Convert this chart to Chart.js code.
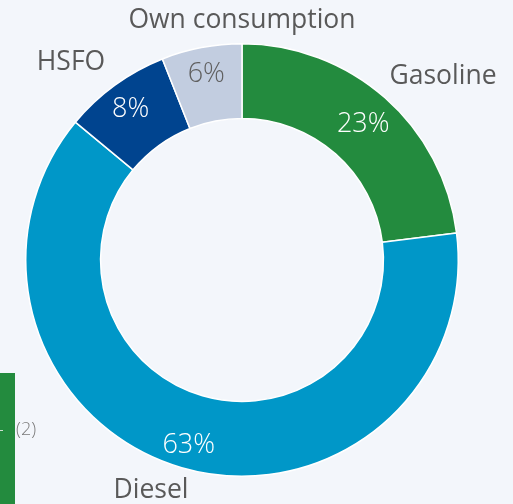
<!DOCTYPE html>
<html lang="en">
<head>
  <meta charset="UTF-8">
  <title>Product mix</title>
  <style>
    html, body { margin: 0; padding: 0; background: #f3f6fb; }
    body { width: 513px; height: 504px; overflow: hidden; position: relative; font-family: "Open Sans", sans-serif; }
    #wrap { position: absolute; left: 0; top: 0; width: 513px; height: 504px; }
    .side-bar { position: absolute; left: 0; top: 373px; width: 15px; height: 131px; background: #238b3e; }
    .side-tick { position: absolute; left: 0; top: 430px; width: 3px; height: 1px; background: #cfe0d2; }
    .note { position: absolute; left: 16px; top: 416px; font-size: 18px; font-weight: 300; color: #7a7a7a; }
  </style>
</head>
<body>
  <div id="wrap"><canvas id="mixChart" width="513" height="504"></canvas></div>
  <div class="side-bar"></div>
  <div class="side-tick"></div>
  <div class="note">(2)</div>

  <script src="https://cdn.jsdelivr.net/npm/chart.js"></script>
  <script>
    const categories = ["Gasoline", "Diesel", "HSFO", "Own consumption"];
    const shares = [23, 63, 8, 6];
    const colors = ["#238b3e", "#0097c8", "#00448f", "#c2cde0"];
    const pctColors = ["#ffffff", "#ffffff", "#ffffff", "#5f5f5f"];

    // where each % sits across the ring (0 = inner edge, 1 = outer edge)
    const pctDepth = [0.56, 0.66, 0.64, 0.66];
    // name labels sit outside the ring, offset from the centre
    const nameOffsets = [[201, -184], [-91, 230], [-171, -198], [0, -240]];

    const sliceLabels = {
      id: 'sliceLabels',
      afterDatasetsDraw(chart) {
        const ctx = chart.ctx;
        const meta = chart.getDatasetMeta(0);
        ctx.save();
        ctx.textAlign = 'center';
        ctx.textBaseline = 'middle';
        meta.data.forEach((arc, i) => {
          const p = arc.getProps(['x', 'y', 'startAngle', 'endAngle', 'innerRadius', 'outerRadius'], true);
          const mid = (p.startAngle + p.endAngle) / 2;
          const r = p.innerRadius + pctDepth[i] * (p.outerRadius - p.innerRadius);
          ctx.font = '300 27px "Open Sans", sans-serif';
          ctx.fillStyle = pctColors[i];
          ctx.fillText(shares[i] + '%', p.x + Math.cos(mid) * r, p.y + Math.sin(mid) * r + 2);

          ctx.font = '400 26.5px "Open Sans", sans-serif';
          ctx.fillStyle = '#595959';
          ctx.fillText(categories[i], p.x + nameOffsets[i][0], p.y + nameOffsets[i][1]);
        });
        ctx.restore();
      }
    };

    new Chart(document.getElementById('mixChart').getContext('2d'), {
      type: 'doughnut',
      data: {
        labels: categories,
        datasets: [{
          data: shares,
          backgroundColor: colors,
          borderColor: '#ffffff',
          borderWidth: 1.5,
          hoverOffset: 0
        }]
      },
      options: {
        responsive: false,
        animation: false,
        cutout: '65.4%',
        layout: { padding: { left: 25, right: 54, top: 43, bottom: 27 } },
        plugins: {
          legend: { display: false },
          tooltip: { enabled: false }
        }
      },
      plugins: [sliceLabels]
    });
  </script>
</body>
</html>
